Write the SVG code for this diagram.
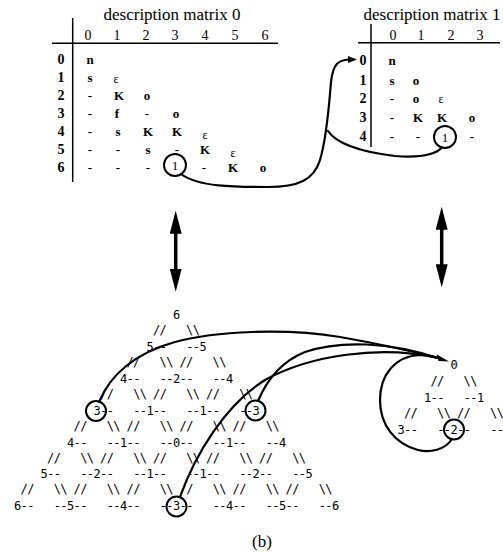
<svg xmlns="http://www.w3.org/2000/svg" width="503" height="554" viewBox="0 0 503 554">
<style>
.ttl{font-family:"Liberation Serif",serif;font-size:17px;text-anchor:middle;fill:#000}
.hd{font-family:"Liberation Serif",serif;font-size:14px;text-anchor:middle;fill:#000}
.rl{font-family:"Liberation Serif",serif;font-size:14px;font-weight:bold;text-anchor:middle;fill:#000}
.en{font-family:"Liberation Serif",serif;font-size:13px;font-weight:bold;text-anchor:middle;fill:#000}
.ep{font-family:"Liberation Serif",serif;font-size:12px;text-anchor:middle;fill:#000}
.ci{font-family:"Liberation Serif",serif;font-size:13px;text-anchor:middle;fill:#000}
.mono{font-family:"DejaVu Sans Mono",monospace;font-size:12px;letter-spacing:-0.6px;fill:#000}
.rule{stroke:#000;stroke-width:1.5;fill:none}
.ring{stroke:#000;stroke-width:2;fill:none}
.cv{stroke:#000;stroke-width:2.2;fill:none;stroke-linecap:round}
.dbl{stroke:#000;stroke-width:3.5;fill:none}
.cap{font-family:"Liberation Serif",serif;font-size:17px;text-anchor:middle;fill:#000}
</style>
<defs>
<marker id="ah" markerUnits="userSpaceOnUse" markerWidth="10" markerHeight="8" refX="3" refY="3.5" orient="auto"><path d="M0,0 L9,3.5 L0,7 z" fill="#000"/></marker>
<marker id="big" markerUnits="userSpaceOnUse" markerWidth="24" markerHeight="12" refX="8" refY="6" orient="auto-start-reverse"><path d="M0,0 L23,6 L0,12 z" fill="#000"/></marker>
</defs>

<g id="matrix0">
<text class="ttl" x="172" y="20">description matrix 0</text>
<line class="rule" x1="72.7" y1="18" x2="72.7" y2="182"/>
<line class="rule" x1="52" y1="43.3" x2="278" y2="43.3"/>
<g class="hd"><text x="88" y="39.5">0</text><text x="117" y="39.5">1</text><text x="146" y="39.5">2</text><text x="175" y="39.5">3</text><text x="205" y="39.5">4</text><text x="235" y="39.5">5</text><text x="265" y="39.5">6</text></g>
<g class="rl"><text x="61" y="64">0</text><text x="61" y="82">1</text><text x="61" y="100">2</text><text x="61" y="118">3</text><text x="61" y="136">4</text><text x="61" y="154">5</text><text x="61" y="171.5">6</text></g>
<g class="en">
<text x="90" y="63.5">n</text>
<text x="90" y="81.5">s</text>
<text x="90" y="99.5">-</text><text x="119" y="99.5">K</text><text x="147" y="99.5">o</text>
<text x="90" y="117.5">-</text><text x="117" y="117.5">f</text><text x="147" y="117.5">-</text><text x="176" y="117.5">o</text>
<text x="90" y="135.5">-</text><text x="118" y="135.5">s</text><text x="148" y="135.5">K</text><text x="177" y="135.5">K</text>
<text x="90" y="153.5">-</text><text x="118" y="153.5">-</text><text x="148" y="153.5">s</text><text x="177" y="153.5">-</text><text x="205" y="153.5">K</text>
<text x="90" y="171.5">-</text><text x="118" y="171.5">-</text><text x="148" y="171.5">-</text><text x="204" y="171.5">-</text><text x="233" y="171.5">K</text><text x="263" y="171.5">o</text>
</g>
<g class="ep"><text x="116" y="82.5">ε</text><text x="205" y="139">ε</text><text x="233" y="156.5">ε</text></g>
<circle class="ring" cx="175" cy="165" r="11"/>
<text class="ci" x="175" y="169.5">1</text>
</g>

<g id="matrix1">
<text class="ttl" x="432" y="20">description matrix 1</text>
<line class="rule" x1="371" y1="24" x2="371" y2="147"/>
<line class="rule" x1="358" y1="42.7" x2="500" y2="42.7"/>
<g class="hd"><text x="393" y="39.5">0</text><text x="421" y="39.5">1</text><text x="451" y="39.5">2</text><text x="480" y="39.5">3</text></g>
<g class="rl"><text x="363" y="65">0</text><text x="363" y="84.5">1</text><text x="363" y="103">2</text><text x="363" y="122">3</text><text x="363" y="141">4</text></g>
<g class="en">
<text x="392" y="65">n</text>
<text x="392" y="84.5">s</text><text x="416" y="84.5">o</text>
<text x="392" y="103">-</text><text x="416" y="103">o</text>
<text x="392" y="122">-</text><text x="418" y="122">K</text><text x="442" y="122">K</text><text x="472" y="122">o</text>
<text x="392" y="141">-</text><text x="418" y="141">-</text><text x="472" y="141">-</text>
</g>
<text class="ep" x="441" y="103">ε</text>
<circle class="ring" cx="445" cy="137" r="11"/>
<text class="ci" x="445" y="141.5">1</text>
</g>

<g id="tree0" class="mono">
<text x="172.9" y="319.4">6</text>
<text x="153" y="334.3">//&#160;&#160;&#160;\\</text>
<text x="146.4" y="351.2">5--&#160;&#160;&#160;--5</text>
<text x="126.5" y="366.1">//&#160;&#160;&#160;\\&#160;//&#160;&#160;&#160;\\</text>
<text x="119.9" y="383">4--&#160;&#160;&#160;--2--&#160;&#160;&#160;--4</text>
<text x="100.1" y="397.9">//&#160;&#160;&#160;\\&#160;//&#160;&#160;&#160;\\&#160;//&#160;&#160;&#160;\\</text>
<text x="93.5" y="414.8">3--&#160;&#160;&#160;--1--&#160;&#160;&#160;--1--&#160;&#160;&#160;--3</text>
<text x="73.6" y="429.7">//&#160;&#160;&#160;\\&#160;//&#160;&#160;&#160;\\&#160;//&#160;&#160;&#160;\\&#160;//&#160;&#160;&#160;\\</text>
<text x="67" y="446.6">4--&#160;&#160;&#160;--1--&#160;&#160;&#160;--0--&#160;&#160;&#160;--1--&#160;&#160;&#160;--4</text>
<text x="47.1" y="461.5">//&#160;&#160;&#160;\\&#160;//&#160;&#160;&#160;\\&#160;//&#160;&#160;&#160;\\&#160;//&#160;&#160;&#160;\\&#160;//&#160;&#160;&#160;\\</text>
<text x="40.5" y="478.4">5--&#160;&#160;&#160;--2--&#160;&#160;&#160;--1--&#160;&#160;&#160;--1--&#160;&#160;&#160;--2--&#160;&#160;&#160;--5</text>
<text x="20.6" y="493.3">//&#160;&#160;&#160;\\&#160;//&#160;&#160;&#160;\\&#160;//&#160;&#160;&#160;\\&#160;//&#160;&#160;&#160;\\&#160;//&#160;&#160;&#160;\\&#160;//&#160;&#160;&#160;\\</text>
<text x="14" y="510.2">6--&#160;&#160;&#160;--5--&#160;&#160;&#160;--4--&#160;&#160;&#160;--3--&#160;&#160;&#160;--4--&#160;&#160;&#160;--5--&#160;&#160;&#160;--6</text>
<circle class="ring" cx="96" cy="411" r="10"/>
<circle class="ring" cx="255.5" cy="410.5" r="10"/>
<circle class="ring" cx="176.5" cy="506.5" r="10"/>
</g>

<g id="tree1" class="mono">
<text x="450.4" y="369.4">0</text>
<text x="430.5" y="384.5">//&#160;&#160;&#160;\\</text>
<text x="423.9" y="401.6">1--&#160;&#160;&#160;--1</text>
<text x="404" y="416.7">//&#160;&#160;&#160;\\&#160;//&#160;&#160;&#160;\\</text>
<text x="397.4" y="433.8">3--&#160;&#160;&#160;--2--&#160;&#160;&#160;--</text>
<circle class="ring" cx="454" cy="429.5" r="10"/>
</g>

<g id="connectors">
<path class="cv" d="M181,174 C198,187 235,187 268,187 C298,187 314,180 320,160 C327,137 329,105 331,82 C333,64 338,59.5 351,59.5" marker-end="url(#ah)"/>
<path class="cv" d="M328,131 C336,143 360,152 395,156 C420,158 435,155 442,147.5"/>
<line class="dbl" x1="175.7" y1="225.7" x2="175.7" y2="276.7" marker-start="url(#big)" marker-end="url(#big)"/>
<line class="dbl" x1="441.7" y1="221.7" x2="441.7" y2="272.3" marker-start="url(#big)" marker-end="url(#big)"/>
<path class="cv" d="M99,402 C110,375 135,353 175,342 C215,331 285,328 340,337 C380,344 415,352 438,358"/>
<path class="cv" d="M258,401 C266,382 280,362 305,352 C340,340 390,342 438,358"/>
<path class="cv" d="M180,497 C195,455 225,405 265,380 C310,355 380,345 438,358"/>
<path class="cv" d="M452,439 C445,450 430,453 418,450 C395,444 380,425 380,400 C380,375 395,356 420,355 C428,355 433,356 438,358"/>
<polygon points="449,361.5 436.5,354.2 438.5,361" fill="#000"/>
</g>

<g id="caption">
<text class="cap" x="262" y="547">(b)</text>
</g>
</svg>
